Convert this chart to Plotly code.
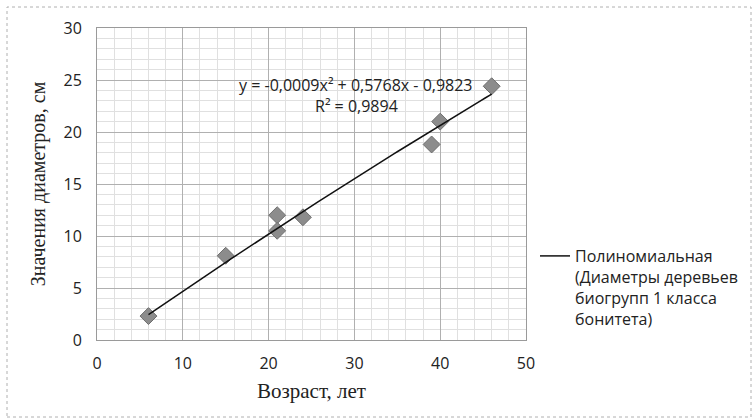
import numpy as np
import plotly.graph_objects as go

# Data
age = [6, 15, 21, 21, 24, 39, 40, 46]
diameter = [2.3, 8.1, 12.0, 10.5, 11.8, 18.8, 21.0, 24.4]

# Trend-line coefficients shown on the chart (y = a x^2 + b x + c)
trend_coef = [-0.0009, 0.5768, -0.9823]
trend_label = "y = -0,0009x² + 0,5768x - 0,9823"
r2_label = "R² = 0,9894"
legend_name = "Полиномиальная<br>(Диаметры деревьев<br>биогрупп 1 класса<br>бонитета)"

x_title = "Возраст, лет"
y_title = "Значения диаметров, см"

tx = np.linspace(min(age), max(age), 100)
ty = np.polyval(trend_coef, tx)

L, R, T, B = 97, 227, 28, 79
W, H = 753, 419
pw, ph = W - L - R, H - T - B

def px(xp):
    return (xp - L) / pw

def py(yp):
    return (H - B - yp) / ph

fig = go.Figure()
fig.add_trace(go.Scatter(
    x=age, y=diameter, mode="markers", showlegend=False,
    marker=dict(symbol="diamond", size=13, color="#8c8c8c",
                line=dict(color="#6e6e6e", width=1)),
))
fig.add_trace(go.Scatter(
    x=tx, y=ty, mode="lines", name=legend_name,
    line=dict(color="#111111", width=1.5),
))

sans = "Open Sans, Noto Sans, sans-serif"
serif = "Liberation Serif, DejaVu Serif, serif"

fig.add_annotation(x=30.2, y=24.55, text=trend_label, showarrow=False,
                   font=dict(family=sans, size=16, color="#222"), xanchor="center")
fig.add_annotation(x=30.2, y=22.5, text=r2_label, showarrow=False,
                   font=dict(family=sans, size=16, color="#222"), xanchor="center")

fig.add_shape(type="rect", xref="paper", yref="paper",
              x0=px(7), x1=px(751), y0=py(417), y1=py(7),
              line=dict(color="#b0b0b0", width=1, dash="dot"), layer="below")

axis_common = dict(
    showline=True, linecolor="#9a9a9a", linewidth=1, mirror=True,
    gridcolor="#b0b0b0", gridwidth=1, zeroline=False,
    ticks="", tickfont=dict(family=sans, size=16, color="#222"),
)

fig.update_xaxes(range=[0, 50], dtick=10, **axis_common,
                 minor=dict(dtick=2, showgrid=True, gridcolor="#e0e0e0", gridwidth=1),
                 ticklabelstandoff=9,
                 title=dict(text=x_title, font=dict(family=serif, size=21, color="#222"),
                            standoff=10))
fig.update_yaxes(range=[0, 30], dtick=5, **axis_common,
                 minor=dict(dtick=1, showgrid=True, gridcolor="#e0e0e0", gridwidth=1),
                 ticklabelstandoff=11,
                 title=dict(text=y_title, font=dict(family=serif, size=20, color="#222"),
                            standoff=12))

fig.update_layout(
    width=W, height=H,
    margin=dict(l=L, r=R, t=T, b=B, autoexpand=False),
    paper_bgcolor="white", plot_bgcolor="white",
    showlegend=True,
    legend=dict(x=px(535), y=py(239), xanchor="left", yanchor="top",
                valign="top", bgcolor="rgba(0,0,0,0)",
                font=dict(family=sans, size=16, color="#222"),
                itemwidth=30, tracegroupgap=0),
)

fig.write_html("out.html", config={"displayModeBar": False},
               post_script="document.body.style.margin='0px';")
